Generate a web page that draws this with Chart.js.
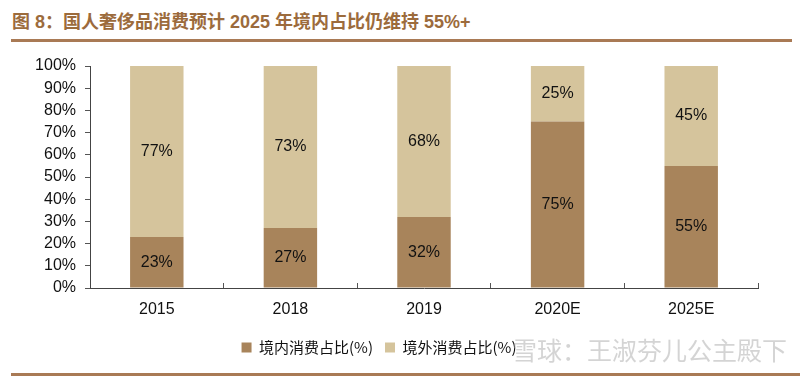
<!DOCTYPE html>
<html>
<head>
<meta charset="utf-8">
<script src="https://cdn.jsdelivr.net/npm/chart.js@4/dist/chart.umd.min.js"></script>
<style>
  body { margin: 0; background: #fff; }
  #wrap { position: relative; width: 800px; height: 380px; overflow: hidden; }
  #title {
    position: absolute; left: 12px; top: 7px;
    font: bold 18px "Liberation Sans", "Noto Sans CJK SC", sans-serif;
    color: #9c6b3c; white-space: nowrap;
  }
  .rule { position: absolute; left: 11px; right: 8px; height: 3px; background: #a97a55; }
  #watermark {
    position: absolute; left: 512px; top: 331px;
    font: 25px "Noto Sans CJK SC", sans-serif;
    color: rgba(170, 170, 170, 0.5); white-space: nowrap;
  }
  canvas { position: absolute; left: 0; top: 0; }
</style>
</head>
<body>
<div id="wrap">
  <div id="title">图 8：国人奢侈品消费预计 2025 年境内占比仍维持 55%+</div>
  <div class="rule" style="top:39px"></div>
  <canvas id="chart" width="800" height="380"></canvas>
  <div id="watermark">雪球：王淑芬儿公主殿下</div>
  <div class="rule" style="top:373px; right:0"></div>
</div>
<script>
// Chart data
const years = ['2015', '2018', '2019', '2020E', '2025E'];
const domestic = [23, 27, 32, 75, 55];   // 境内消费占比
const overseas = [77, 73, 68, 25, 45];   // 境外消费占比

const darkBrown = '#a8845b';
const lightTan = '#d5c49c';

Chart.defaults.font.family = "'Liberation Sans', Arial, sans-serif";
Chart.defaults.color = '#000';

// Percentage labels in the middle of each segment
const segmentLabels = {
    id: 'segmentLabels',
    afterDatasetsDraw(chart) {
        const ctx = chart.ctx;
        ctx.save();
        ctx.font = "16px 'Liberation Sans', Arial, sans-serif";
        ctx.fillStyle = '#111';
        ctx.textAlign = 'center';
        ctx.textBaseline = 'middle';
        chart.data.datasets.forEach((ds, i) => {
            chart.getDatasetMeta(i).data.forEach((bar, j) => {
                const p = bar.getCenterPoint();
                ctx.fillText(ds.data[j] + '%', p.x, p.y);
            });
        });
        ctx.restore();
    }
};

new Chart(document.getElementById('chart'), {
    type: 'bar',
    data: {
        labels: years,
        datasets: [
            { label: '境内消费占比(%)', data: domestic, backgroundColor: darkBrown },
            { label: '境外消费占比(%)', data: overseas, backgroundColor: lightTan }
        ]
    },
    options: {
        responsive: false,
        animation: false,
        layout: { padding: { left: 0, right: 42, top: 66, bottom: 15 } },
        categoryPercentage: 0.8,
        barPercentage: 0.5,
        plugins: {
            legend: {
                position: 'bottom',
                labels: {
                    boxWidth: 10, boxHeight: 10, padding: 12,
                    font: { size: 15, family: "'Noto Sans CJK SC', serif" },
                    color: '#111'
                }
            },
            tooltip: { enabled: false }
        },
        scales: {
            x: {
                stacked: true,
                grid: { drawOnChartArea: false, offset: true, tickLength: -5, color: '#555' },
                border: { color: '#444', width: 1 },
                ticks: { font: { size: 16 }, padding: 17, color: '#111' },
                afterFit(scale) { scale.height = 40; }
            },
            y: {
                stacked: true,
                min: 0, max: 100,
                grid: { drawOnChartArea: false, tickLength: 5, color: '#555' },
                border: { color: '#444', width: 1 },
                ticks: {
                    stepSize: 10, padding: 9, color: '#111',
                    font: { size: 16 },
                    callback: v => v + '%'
                },
                afterFit(scale) { scale.width = 90; }
            }
        }
    },
    plugins: [segmentLabels]
});
</script>
</body>
</html>
